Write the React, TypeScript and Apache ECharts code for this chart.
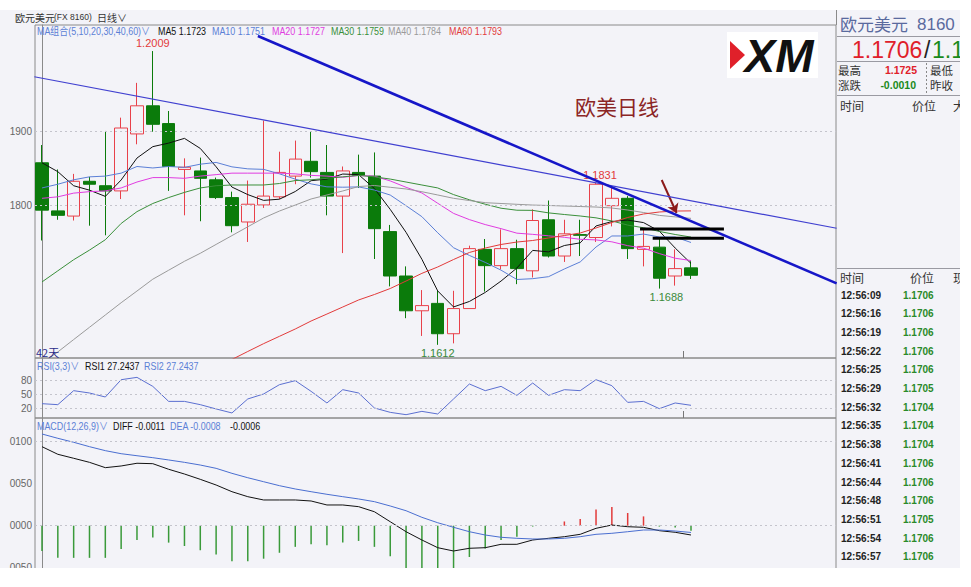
import React, { useEffect, useRef } from 'react';
import * as echarts from 'echarts';

// ---------- data ----------
const candleOpen = [1.1858, 1.1793, 1.1786, 1.1833, 1.1827, 1.1820, 1.1897, 1.1935, 1.1911, 1.1849, 1.1847, 1.1835, 1.1811, 1.1778, 1.1801, 1.1812, 1.1840, 1.1860, 1.1845, 1.1813, 1.1845, 1.1840, 1.1765, 1.1705, 1.1658, 1.1668, 1.1627, 1.1661, 1.1741, 1.1719, 1.1742, 1.1712, 1.1781, 1.1732, 1.1761, 1.1757, 1.1800, 1.1810, 1.1741, 1.1744, 1.1705, 1.1716];
const candleClose = [1.1794, 1.1787, 1.1833, 1.1829, 1.1820, 1.1905, 1.1935, 1.1910, 1.1853, 1.1852, 1.1837, 1.1811, 1.1773, 1.1802, 1.1813, 1.1845, 1.1863, 1.1846, 1.1813, 1.1847, 1.1841, 1.1769, 1.1705, 1.1658, 1.1665, 1.1627, 1.1661, 1.1742, 1.1719, 1.1742, 1.1715, 1.1780, 1.1732, 1.1762, 1.1760, 1.1829, 1.1810, 1.1742, 1.1745, 1.1702, 1.1715, 1.1706];
const candleLow = [1.1753, 1.1781, 1.1780, 1.1773, 1.1760, 1.1809, 1.1883, 1.1900, 1.1820, 1.1787, 1.1779, 1.1809, 1.1764, 1.1751, 1.1797, 1.1809, 1.1829, 1.1838, 1.1787, 1.1736, 1.1824, 1.1728, 1.1691, 1.1648, 1.1624, 1.1612, 1.1614, 1.1661, 1.1684, 1.1714, 1.1694, 1.1703, 1.1730, 1.1724, 1.1732, 1.1751, 1.1772, 1.1728, 1.1718, 1.1688, 1.1692, 1.1701];
const candleHigh = [1.1882, 1.1849, 1.1843, 1.1839, 1.1901, 1.1919, 1.1966, 1.2009, 1.1928, 1.1864, 1.1865, 1.1838, 1.1819, 1.1834, 1.1915, 1.1873, 1.1888, 1.1900, 1.1882, 1.1853, 1.1869, 1.1872, 1.1774, 1.1718, 1.1686, 1.1685, 1.1685, 1.1746, 1.1755, 1.1768, 1.1754, 1.1795, 1.1807, 1.1781, 1.1781, 1.1831, 1.1824, 1.1813, 1.1768, 1.1756, 1.1741, 1.1725];

const ma5 = [1.1858, 1.1846, 1.1827, 1.1821, 1.18126, 1.18348, 1.18644, 1.18798, 1.18846, 1.1891, 1.18774, 1.18526, 1.18252, 1.1815, 1.18072, 1.18088, 1.18192, 1.18338, 1.1836, 1.18428, 1.1842, 1.18232, 1.1795, 1.1764, 1.17276, 1.16848, 1.16632, 1.16706, 1.16828, 1.16982, 1.17158, 1.17396, 1.17376, 1.17462, 1.17498, 1.17726, 1.17786, 1.17806, 1.17772, 1.17656, 1.17428, 1.1722];
const ma10 = [1.1824, 1.1829, 1.1835, 1.1839, 1.1840, 1.1844, 1.1853, 1.1851, 1.1853, 1.18518, 1.18561, 1.18585, 1.18525, 1.18498, 1.18491, 1.18431, 1.18359, 1.18295, 1.18255, 1.1825, 1.18254, 1.18212, 1.18144, 1.18, 1.17852, 1.17634, 1.17432, 1.17328, 1.17234, 1.17129, 1.17003, 1.17014, 1.17041, 1.17145, 1.1724, 1.17442, 1.17591, 1.17591, 1.17617, 1.17577, 1.17577, 1.17503];
const ma20 = [1.1810, 1.1812, 1.1817, 1.1819, 1.1820, 1.1824, 1.1832, 1.1838, 1.1838, 1.1837, 1.1840, 1.1842, 1.1844, 1.1844, 1.1844, 1.1844, 1.1843, 1.1841, 1.1840, 1.18384, 1.18408, 1.18399, 1.18335, 1.18249, 1.18172, 1.18033, 1.17896, 1.17812, 1.17745, 1.1769, 1.17629, 1.17613, 1.17593, 1.17573, 1.17546, 1.17538, 1.17512, 1.1746, 1.17426, 1.17353, 1.1729, 1.17259];
const ma30 = [1.1697, 1.1712, 1.1727, 1.1740, 1.1754, 1.1776, 1.1792, 1.1803, 1.1811, 1.1818, 1.1824, 1.1827, 1.1828, 1.1828, 1.1828, 1.1830, 1.1834, 1.1835, 1.1837, 1.1839, 1.1841, 1.1839, 1.1836, 1.1832, 1.1828, 1.1824, 1.1815, 1.1808, 1.1802, 1.17966, 1.17939, 1.17937, 1.17903, 1.17881, 1.17861, 1.17836, 1.17794, 1.17738, 1.17702, 1.17652, 1.17611, 1.17576];
const ma40 = [1.15874, 1.16024, 1.16191, 1.16357, 1.16523, 1.16689, 1.16847, 1.17007, 1.17128, 1.17249, 1.17357, 1.17477, 1.17596, 1.17715, 1.17834, 1.17928, 1.18009, 1.18091, 1.18145, 1.18199, 1.18259, 1.18273, 1.18249, 1.18226, 1.18189, 1.18145, 1.181, 1.1807, 1.18041, 1.1803, 1.18019, 1.18009, 1.18003, 1.17996, 1.17989, 1.17982, 1.17969, 1.17942, 1.17908, 1.17869, 1.17849, 1.17829];
const ma60 = [null, null, null, null, null, null, null, null, null, null, null, null, 1.15922, 1.1603, 1.16136, 1.16235, 1.16334, 1.16442, 1.16536, 1.16631, 1.16726, 1.168, 1.16881, 1.16982, 1.17086, 1.17172, 1.17273, 1.17368, 1.17428, 1.17476, 1.17509, 1.1753, 1.17564, 1.17597, 1.17631, 1.17699, 1.17773, 1.17841, 1.17888, 1.17915, 1.17928, 1.1793];

const maNames = ['MA5', 'MA10', 'MA20', 'MA30', 'MA40', 'MA60'];
const maLegendValues = ['1.1723', '1.1751', '1.1727', '1.1759', '1.1784', '1.1793'];
const maColors = ['#111111', '#5b7fd6', '#e03ce0', '#3a8f3a', '#9a9a9a', '#e23a3a'];

const rsi = [30.7, 28.6, 58.6, 53.6, 45, 82.1, 87.1, 67.8, 35.6, 35.6, 28.6, 19.4, 10.8, 40.8, 51.5, 71.4, 80, 57.1, 32.2, 60.7, 53.6, 21.5, 12.1, 7.1, 14.2, 8.6, 40.8, 72.9, 58.6, 67.8, 48.5, 75, 48.5, 60.7, 58.6, 82.1, 69.3, 33.5, 35.6, 20, 32.2, 27.2];

const diff = [0.00934, 0.00844, 0.00797, 0.00749, 0.00686, 0.00706, 0.00738, 0.00733, 0.00667, 0.00611, 0.00548, 0.00481, 0.00402, 0.00343, 0.00304, 0.00304, 0.00304, 0.00292, 0.00245, 0.00245, 0.00225, 0.00165, 0.00047, -0.00071, -0.00169, -0.0026, -0.00299, -0.00267, -0.0026, -0.0022, -0.0022, -0.00169, -0.00149, -0.0013, -0.00102, -0.00031, 0.00008, -0.00012, -0.00019, -0.00059, -0.00078, -0.0011];
const dea = [0.01084, 0.01033, 0.00986, 0.00934, 0.00887, 0.00851, 0.00827, 0.00804, 0.00777, 0.00749, 0.00717, 0.00678, 0.00619, 0.00567, 0.0052, 0.00473, 0.00434, 0.00402, 0.00371, 0.00343, 0.00316, 0.00284, 0.00233, 0.00177, 0.00099, 0.00035, -0.00019, -0.00071, -0.0011, -0.00137, -0.00149, -0.00157, -0.00157, -0.00149, -0.0013, -0.00102, -0.0009, -0.00071, -0.00051, -0.00051, -0.00063, -0.0008];
const macdHist = [-0.0030, -0.0038, -0.0038, -0.0038, -0.0038, -0.00275, -0.0017, -0.0014, -0.0020, -0.0024, -0.0029, -0.0034, -0.0042, -0.0042, -0.0039, -0.0032, -0.0025, -0.0022, -0.0023, -0.0020, -0.0018, -0.0025, -0.0036, -0.0050, -0.0054, -0.0059, -0.0056, -0.0037, -0.0027, -0.0017, -0.0013, -0.0001, 0, 0.0005, 0.0008, 0.0019, 0.0022, 0.0015, 0.0011, -0.0001, -0.0002, -0.0006];

// drawn trend lines / levels, as [candle index, price]
const thinTrend = [[-0.486, 1.19743], [50.2, 1.17695]];
const thickTrend = [[13.64, 1.20293], [50.2, 1.16951]];
const levelUpper = [[37.78, 1.17685], [43.08, 1.17685]];
const levelLower = [[38.58, 1.1756], [43.08, 1.1756]];
const arrowLine = [[39.15, 1.18347], [40.09, 1.17901]];

const priceTicks = [1.18, 1.19];
const rsiTicks = [20, 50, 80];
const macdTicks = [-0.005, 0, 0.005, 0.01];

const extremes = [
  { idx: 7, price: 1.2009, pos: 'top', color: '#e23a3a', dx: 0 },
  { idx: 35, price: 1.1831, pos: 'top', color: '#e23a3a', dx: 4 },
  { idx: 25, price: 1.1612, pos: 'bottom', color: '#3a8a3a', dx: 0 },
  { idx: 39, price: 1.1688, pos: 'bottom', color: '#3a8a3a', dx: 7 },
];

const tickTimes = ['12:56:09', '12:56:16', '12:56:19', '12:56:22', '12:56:25', '12:56:29', '12:56:32', '12:56:35', '12:56:38', '12:56:41', '12:56:44', '12:56:48', '12:56:51', '12:56:54', '12:56:57'];
const tickPrices = ['1.1706', '1.1706', '1.1706', '1.1706', '1.1706', '1.1705', '1.1704', '1.1704', '1.1704', '1.1706', '1.1706', '1.1706', '1.1705', '1.1706', '1.1706'];

// ---------- styling ----------
const FONT = '"Liberation Sans", "Noto Sans CJK SC", sans-serif';
const CJK = '"Noto Sans CJK SC", "Liberation Sans", sans-serif';
const BG = '#f3f3f8';
const UP = '#e8414a';
const DOWN = '#0b7b0b';
const X_MIN = -0.442;
const X_MAX = 50.16;

function txt(x: number, y: number, text: string, fill: string, size: number, o: any = {}) {
  return {
    type: 'text', x, y, z: 100, scaleX: o.sx || 1,
    style: {
      text, fill, fontSize: size, fontFamily: o.family || FONT, lineHeight: Math.round(size + 1),
      fontWeight: o.weight || 'normal', fontStyle: o.italic ? 'italic' : 'normal',
      textAlign: o.align || 'left', align: o.align || 'left',
      textVerticalAlign: 'middle', verticalAlign: 'middle',
    },
  };
}
function hline(x1: number, x2: number, y: number, color = '#9a9aa2', dash: any = null) {
  return { type: 'line', z: 90, shape: { x1, y1: y, x2, y2: y }, style: { stroke: color, lineWidth: 1, lineDash: dash } };
}
function vline(x: number, y1: number, y2: number, color = '#9a9aa2', dash: any = null) {
  return { type: 'line', z: 90, shape: { x1: x, y1, x2: x, y2 }, style: { stroke: color, lineWidth: 1, lineDash: dash } };
}

const pairs = (arr: (number | null)[]) => arr.map((v, i) => [i, v == null ? '-' : v]);
const gridMark = (vals: number[]) => ({
  silent: true, symbol: 'none', label: { show: false },
  lineStyle: { color: '#c4c4cc', type: [2, 3], width: 1 },
  data: vals.map((v) => ({ yAxis: v })),
});
const tickFmt = (v: number) => v.toFixed(4).slice(-4);

function buildOption() {
  const maSeries = [ma5, ma10, ma20, ma30, ma40, ma60].map((arr, k) => ({
    type: 'line', name: maNames[k], xAxisIndex: 0, yAxisIndex: 0, data: pairs(arr),
    showSymbol: false, symbol: 'none', z: 4,
    lineStyle: { color: maColors[k], width: 1 }, itemStyle: { color: maColors[k] },
  }));

  const SX = 0.85;
  const legendX = [158, 212, 272, 331, 388, 449];
  const graphics: any[] = [
    { type: 'rect', z: -10, shape: { x: 0, y: 10, width: 960, height: 560 }, style: { fill: BG } },
    txt(15, 17, '欧元美元', '#333', 10, { family: CJK }),
    txt(54, 17, '(FX 8160)', '#333', 8.5),
    txt(97, 17, '日线∨', '#333', 10, { family: CJK }),
    vline(836.5, 10, 25, '#8a8a8a'),
    txt(37, 31, 'MA组合(5,10,20,30,40,60)∨', '#5b7fd6', 10.5, { sx: SX }),
    ...maNames.map((n, k) => txt(legendX[k], 31, `${n} ${maLegendValues[k]}`, k === 0 ? '#111' : maColors[k], 10.5, { sx: SX })),
    txt(37, 366, 'RSI(3,3)∨', '#5b7fd6', 10.5, { sx: SX }),
    txt(85, 366, 'RSI1 27.2437', '#111', 10.5, { sx: SX }),
    txt(144, 366, 'RSI2 27.2437', '#5b7fd6', 10.5, { sx: SX }),
    txt(37, 426, 'MACD(12,26,9)∨', '#5b7fd6', 10.5, { sx: SX }),
    txt(113, 426, 'DIFF -0.0011', '#111', 10.5, { sx: SX }),
    txt(170, 426, 'DEA -0.0008', '#5b7fd6', 10.5, { sx: SX }),
    txt(230, 426, '-0.0006', '#111', 10.5, { sx: SX }),
    txt(36, 352, '42天', '#2b2b8a', 11, { family: CJK }),
    vline(683.5, 351, 358, '#777'),
    vline(683.5, 411, 418, '#777'),
    txt(575, 106, '欧美日线', '#8b2525', 21, { family: CJK }),
    // logo
    { type: 'rect', z: 95, shape: { x: 727, y: 32, width: 91, height: 46 }, style: { fill: '#ffffff' } },
    { type: 'polygon', z: 97, shape: { points: [[730, 41], [745, 55], [730, 69]] }, style: { fill: '#e0202a' } },
    txt(779, 56, 'XM', '#111', 46, { weight: 900, italic: true, align: 'center' }),
    // right panel
    txt(840, 23, '欧元美元', '#5a6a9e', 17, { family: CJK }),
    txt(917, 24, '8160', '#5a6a9e', 17),
    hline(837, 960, 36.5),
    txt(852, 50, '1.1706', '#e0202a', 23),
    txt(924, 50, '/', '#222', 23),
    txt(932, 50, '1.1', '#1a8a1a', 23),
    hline(837, 960, 61.5),
    txt(838, 70, '最高', '#333', 11.5, { family: CJK }),
    txt(917, 70, '1.1725', '#e0202a', 10.5, { weight: 'bold', align: 'right' }),
    txt(930, 70, '最低', '#333', 11.5, { family: CJK }),
    txt(838, 85, '涨跌', '#333', 11.5, { family: CJK }),
    txt(916, 85, '-0.0010', '#1a8a1a', 10.5, { weight: 'bold', align: 'right' }),
    txt(930, 85, '昨收', '#333', 11.5, { family: CJK }),
    vline(926.5, 63, 93, '#888', [2, 2]),
    hline(837, 960, 95.5),
    txt(840, 105, '时间', '#333', 12, { family: CJK }),
    txt(912, 105, '价位', '#333', 12, { family: CJK }),
    txt(953, 105, '大', '#333', 12, { family: CJK }),
    hline(837, 960, 268.5),
    txt(840, 277, '时间', '#333', 12, { family: CJK }),
    txt(910, 277, '价位', '#333', 12, { family: CJK }),
    txt(953, 277, '现', '#333', 12, { family: CJK }),
    ...tickTimes.map((t, k) => txt(841, 295 + 18.7 * k, t, '#222', 10, { weight: 'bold' })),
    ...tickPrices.map((p, k) => txt(903, 295 + 18.7 * k, p, '#2a8a2a', 10, { weight: 'bold' })),
    // white margins
    { type: 'rect', z: 200, shape: { x: 960, y: 0, width: 11, height: 587 }, style: { fill: '#ffffff' } },
    { type: 'rect', z: 200, shape: { x: 0, y: 568, width: 971, height: 19 }, style: { fill: '#ffffff' } },
  ];

  const xAxisBase = { type: 'value', min: X_MIN, max: X_MAX, show: false };
  const yLabel = { color: '#666', fontSize: 10, margin: 3, formatter: tickFmt };

  return {
    animation: false,
    backgroundColor: '#ffffff',
    textStyle: { fontFamily: FONT },
    graphic: graphics,
    grid: [
      { left: 35, top: 25, width: 801, height: 333, show: true, borderColor: '#8a8a8a', borderWidth: 1, backgroundColor: 'transparent' },
      { left: 35, top: 358, width: 801, height: 60, show: true, borderColor: '#8a8a8a', borderWidth: 1, backgroundColor: 'transparent' },
      { left: 35, top: 418, width: 801, height: 154, show: true, borderColor: '#8a8a8a', borderWidth: 1, backgroundColor: 'transparent' },
    ],
    xAxis: [
      { ...xAxisBase, gridIndex: 0 },
      { ...xAxisBase, gridIndex: 1 },
      { ...xAxisBase, gridIndex: 2 },
    ],
    yAxis: [
      {
        type: 'value', gridIndex: 0, min: 1.15942, max: 1.20442,
        axisLine: { show: true, lineStyle: { color: '#8a8a8a' } }, axisTick: { show: false }, splitLine: { show: false },
        axisLabel: { ...yLabel, customValues: priceTicks },
      },
      {
        type: 'value', gridIndex: 1, min: 0, max: 128.6,
        axisLine: { show: true, lineStyle: { color: '#8a8a8a' } }, axisTick: { show: false }, splitLine: { show: false },
        axisLabel: { color: '#666', fontSize: 10, margin: 3, customValues: rsiTicks, formatter: (v: number) => String(v) },
      },
      {
        type: 'value', gridIndex: 2, min: -0.005473, max: 0.01273,
        axisLine: { show: true, lineStyle: { color: '#8a8a8a' } }, axisTick: { show: false }, splitLine: { show: false },
        axisLabel: { ...yLabel, customValues: macdTicks },
      },
    ],
    series: [
      {
        type: 'candlestick', xAxisIndex: 0, yAxisIndex: 0, z: 3, barWidth: 13,
        data: candleOpen.map((o, i) => [i, o, candleClose[i], candleLow[i], candleHigh[i]]),
        encode: { x: 0, y: [1, 2, 3, 4] },
        itemStyle: { color: 'transparent', color0: DOWN, borderColor: UP, borderColor0: DOWN, borderWidth: 1 },
        markLine: gridMark(priceTicks),
        markPoint: {
          symbol: 'circle', symbolSize: 1, silent: true,
          itemStyle: { color: 'transparent' },
          data: extremes.map((e) => ({
            coord: [e.idx, e.price], value: e.price.toFixed(4),
            label: { show: true, position: e.pos, distance: 2, offset: [e.dx, 0], color: e.color, fontSize: 11, formatter: e.price.toFixed(4) },
          })),
        },
      },
      ...maSeries,
      {
        type: 'line', xAxisIndex: 0, yAxisIndex: 0, data: thinTrend, showSymbol: false, symbol: 'none', z: 6,
        lineStyle: { color: '#4040d0', width: 1.2 },
      },
      {
        type: 'line', xAxisIndex: 0, yAxisIndex: 0, data: thickTrend, showSymbol: false, symbol: 'none', z: 7,
        lineStyle: { color: '#1616c8', width: 2.6 },
        markLine: {
          silent: true, symbol: ['none', 'arrow'], symbolSize: 9, label: { show: false },
          lineStyle: { color: '#8b1a1a', width: 2, type: 'solid' },
          data: [[{ coord: arrowLine[0] }, { coord: arrowLine[1] }]],
        },
      },
      {
        type: 'line', xAxisIndex: 0, yAxisIndex: 0, data: levelUpper, showSymbol: false, symbol: 'none', z: 7,
        lineStyle: { color: '#000', width: 3 },
      },
      {
        type: 'line', xAxisIndex: 0, yAxisIndex: 0, data: levelLower, showSymbol: false, symbol: 'none', z: 7,
        lineStyle: { color: '#000', width: 3 },
      },
      {
        type: 'line', xAxisIndex: 1, yAxisIndex: 1, data: pairs(rsi), showSymbol: false, symbol: 'none', z: 4,
        lineStyle: { color: '#5b6fd0', width: 1 }, markLine: gridMark(rsiTicks),
      },
      {
        type: 'bar', xAxisIndex: 2, yAxisIndex: 2, barWidth: 1.5, z: 3,
        data: macdHist.map((v, i) => ({ value: [i, v], itemStyle: { color: v >= 0 ? '#e23a3a' : '#3a9a3a' } })),
        markLine: gridMark([0, 0.005, 0.01]),
      },
      {
        type: 'line', xAxisIndex: 2, yAxisIndex: 2, data: pairs(diff), showSymbol: false, symbol: 'none', z: 4,
        lineStyle: { color: '#111', width: 1 },
      },
      {
        type: 'line', xAxisIndex: 2, yAxisIndex: 2, data: pairs(dea), showSymbol: false, symbol: 'none', z: 4,
        lineStyle: { color: '#4a6ed0', width: 1 },
      },
    ],
  };
}

export default function App() {
  const ref = useRef<HTMLDivElement>(null);
  useEffect(() => {
    if (!ref.current) return;
    const chart = echarts.init(ref.current, undefined, { renderer: 'svg' });
    chart.setOption(buildOption() as any);
    return () => chart.dispose();
  }, []);
  return <div ref={ref} style={{ position: 'absolute', left: 0, top: 0, width: 971, height: 587 }} />;
}
